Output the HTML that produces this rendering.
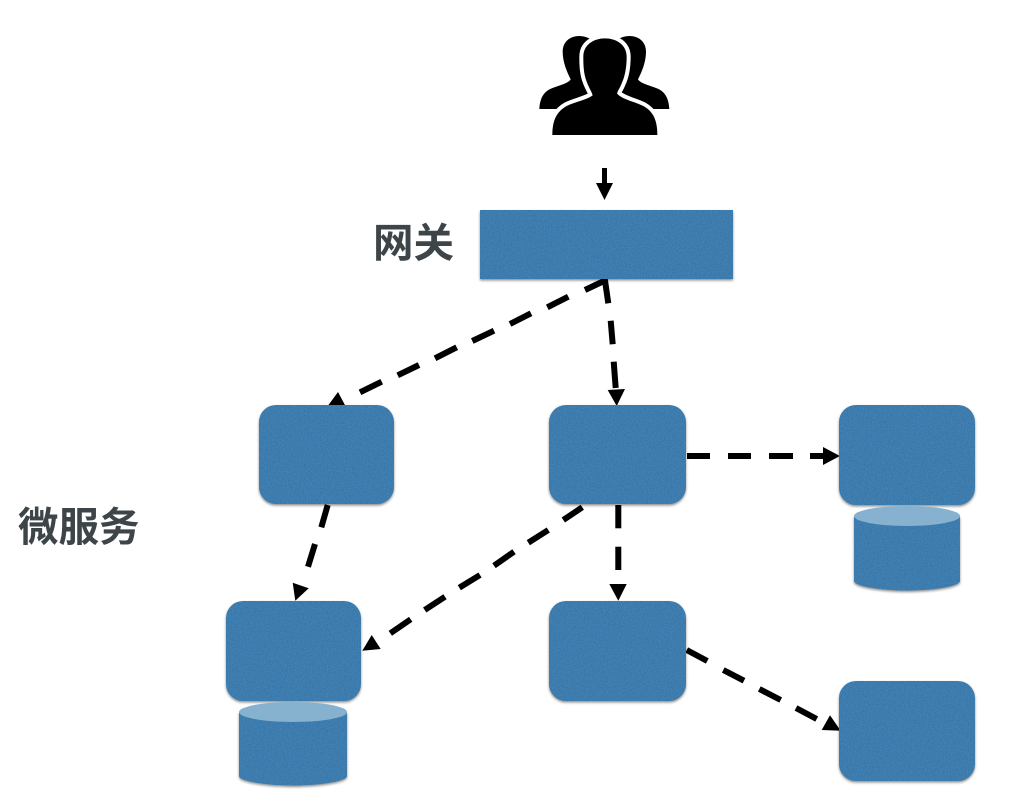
<!DOCTYPE html>
<html>
<head>
<meta charset="utf-8">
<style>
html,body{margin:0;padding:0;background:#fff;width:1032px;height:801px;overflow:hidden}
svg{display:block}
text{font-family:"Liberation Sans","Noto Sans CJK SC",sans-serif;font-weight:700;fill:#3d4549;font-size:40.500px}
</style>
</head>
<body>
<svg width="1032" height="801" viewBox="0 0 1032 801" xmlns="http://www.w3.org/2000/svg">
<defs>
<filter id="s" x="-10%" y="-10%" width="120%" height="120%" color-interpolation-filters="sRGB">
<feTurbulence type="fractalNoise" baseFrequency="0.7" numOctaves="2" seed="4" result="n"/>
<feColorMatrix in="n" type="matrix" values="0 0 0 0 0.12  0 0 0 0 0.3  0 0 0 0 0.48  0.6 0 0 0 -0.22" result="d"/>
<feComposite in="d" in2="SourceGraphic" operator="in" result="tex"/>
<feDropShadow in="SourceGraphic" dx="0" dy="1.5" stdDeviation="1.2" flood-color="#000" flood-opacity="0.45" result="sh"/>
<feMerge><feMergeNode in="sh"/><feMergeNode in="tex"/></feMerge>
</filter>
</defs>

<!-- people icon -->
<g transform="translate(520,20) scale(0.33333)">
<path d="M58 267C60 235 70 215 95 205C115 197 145 190 152 178C140 155 128 125 128 95C128 65 150 48 178 48C190 48 205 52 215 60L240 267Z" fill="#000"/>
<path d="M448 267C446 235 436 215 411 205C391 197 361 190 354 178C366 155 378 125 378 95C378 65 356 48 328 48C316 48 301 52 291 60L266 267Z" fill="#000"/>
<path d="M97 345C97 300 110 275 140 258C165 245 200 240 218 226C215 215 205 200 200 185C190 160 190 130 190 110C190 75 220 55 255 55C290 55 320 75 320 110C320 140 315 170 305 190C300 205 290 215 292 222C310 240 345 245 370 258C400 275 412 300 412 345Z" fill="#000" stroke="#fff" stroke-width="24" paint-order="stroke"/>
</g>

<!-- small arrow -->
<polygon points="602,168 607,168 607,183 613,183 604.500,200 596,183 602,183" fill="#000"/>

<!-- dashed connectors -->
<g fill="none" stroke="#000" stroke-width="6">
<path d="M585 290L605 280.500L608.300 303.300"/>
<path d="M568.300 296.700L547.300 307.300"/>
<path d="M531 313.300L510 324"/>
<path d="M494 330.700L472.300 341"/>
<path d="M456.700 347.300L435 358.300"/>
<path d="M419 365L397.700 375.300"/>
<path d="M381.700 381.700L360 392.300"/>

<path d="M610.700 320.700L612.700 344.300"/>
<path d="M613.700 361.700L615.700 388"/>

<path d="M687 456H710"/>
<path d="M728 456H751"/>
<path d="M769 456H793"/>
<path d="M810 456H826"/>

<path d="M327.700 505L321.300 527.300"/>
<path d="M315 544L308 566.700"/>

<path d="M582.300 507.300L563.300 520"/>
<path d="M548.300 530L528.300 542.700"/>
<path d="M514 551.700L494 565.700"/>
<path d="M480 575L459.300 587.700"/>
<path d="M445 596.700L424.700 610"/>
<path d="M410.700 619.300L390.300 633.300"/>

<path d="M618.300 505V528.300"/>
<path d="M618.300 546.700V570"/>

<path d="M686.700 650L707.300 661"/>
<path d="M723.300 670L744 680.700"/>
<path d="M759.300 689L780.700 700"/>
<path d="M796 708L816.700 719"/>
</g>
<g fill="#000">
<polygon points="338,392 327,407 346,407"/>
<polygon points="607.700,390 625,389 616.700,406"/>
<polygon points="823,447 840,456 823,465"/>
<polygon points="292.700,582.700 308.700,588.300 295.300,600.700"/>
<polygon points="362.300,650.700 371.700,635 380.700,649"/>
<polygon points="609.300,584 626.700,584 618.300,600.700"/>
<polygon points="830,715.300 821.700,730 840.700,730.700"/>
</g>

<!-- boxes -->
<g fill="#4181b3" filter="url(#s)">
<rect x="480" y="210" width="253" height="69"/>
<rect x="259" y="405" width="135" height="99" rx="17"/>
<rect x="549" y="405" width="137" height="99" rx="17"/>
<rect x="839" y="405" width="136" height="100" rx="17"/>
<rect x="226" y="601" width="135" height="100" rx="17"/>
<rect x="549" y="601" width="137" height="100" rx="17"/>
<rect x="839" y="681" width="136" height="100" rx="17"/>
<path d="M854 516V581C854 586 880 590.500 907 590.500C934 590.500 960 586 960 581V516Z"/>
<path d="M239 712V776C239 781 265 785.500 293 785.500C321 785.500 347 781 347 776V712Z"/>
</g>

<!-- cylinder tops -->
<ellipse cx="907" cy="516" rx="53" ry="10" fill="#86b1cf"/>
<ellipse cx="293" cy="712" rx="54" ry="10" fill="#86b1cf"/>

<text x="373" y="257">网关</text>
<text x="18" y="541">微服务</text>
</svg>
</body>
</html>
